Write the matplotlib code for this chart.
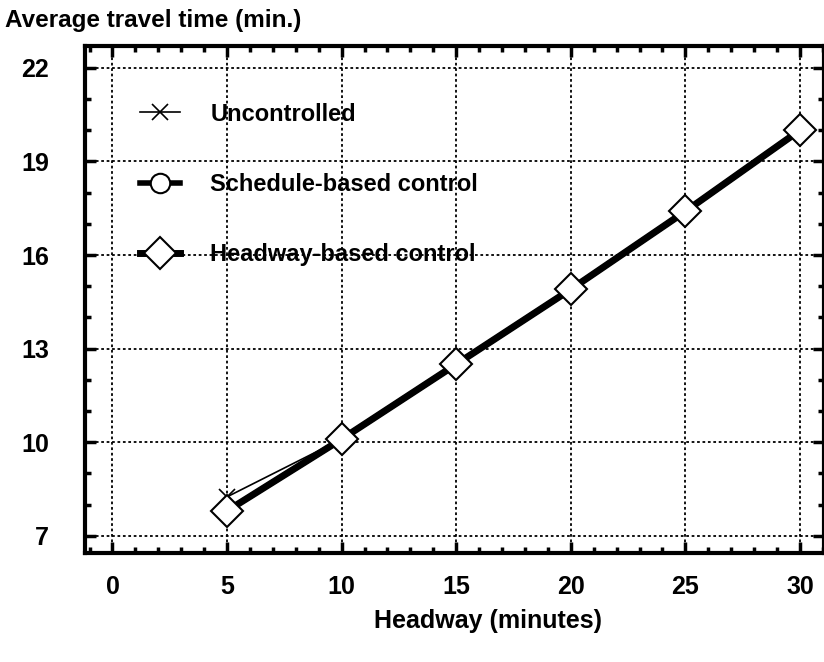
import matplotlib
matplotlib.use("Agg")
import matplotlib.pyplot as plt
from matplotlib.ticker import MultipleLocator

plt.rcParams['font.family'] = ['Liberation Sans', 'DejaVu Sans']
plt.rcParams['font.weight'] = 'bold'

headway = [5, 10, 15, 20, 25, 30]
uncontrolled = [8.25, 10.1, 12.5, 14.9, 17.4, 20.0]
schedule_based = [7.8, 10.1, 12.5, 14.9, 17.4, 20.0]
headway_based = [7.8, 10.1, 12.5, 14.9, 17.4, 20.0]

x_ticks = [0, 5, 10, 15, 20, 25, 30]
y_ticks = [7, 10, 13, 16, 19, 22]

fig = plt.figure(figsize=(8.24, 6.62), dpi=100)
ax = fig.add_axes([85 / 824, 1 - 553 / 662, 1 - 85 / 824, (553 - 46) / 662])

ax.plot(headway, uncontrolled, color='black', lw=1.2, marker='x', ms=12,
        mew=1.2, label='Uncontrolled', zorder=3)
ax.plot(headway, schedule_based, color='black', lw=4, marker='o', ms=14,
        mfc='white', mec='black', mew=1.5, label='Schedule-based control', zorder=4)
ax.plot(headway, headway_based, color='black', lw=5, marker='D', ms=16,
        mfc='white', mec='black', mew=1.5, label='Headway-based control', zorder=5)

ax.set_xlim(-1.2, 31.05)
ax.set_ylim(6.45, 22.7)
ax.set_xticks(x_ticks)
ax.set_yticks(y_ticks)
ax.xaxis.set_minor_locator(MultipleLocator(1))
ax.yaxis.set_minor_locator(MultipleLocator(1))
ax.tick_params(which='both', direction='in', top=True, right=True,
               labelsize=18, width=2.5)
ax.tick_params(axis='x', pad=16)
ax.tick_params(axis='y', pad=26)
ax.tick_params(which='major', length=8)
ax.tick_params(which='minor', length=4)
ax.grid(True, which='major', ls=(0, (1.5, 1.5)), color='black', lw=1.3)
for s in ax.spines.values():
    s.set_linewidth(3)

fig.text(488 / 824, 1 - 621 / 662, 'Headway (minutes)', fontsize=18,
         fontweight='bold', va='center', ha='center')
fig.text(5 / 824, 1 - 20 / 662, 'Average travel time (min.)', fontsize=17.5,
         fontweight='bold', va='center', ha='left')

leg = ax.legend(loc='upper left', bbox_to_anchor=(0.045, 0.93), frameon=False,
                handlelength=1.7, handletextpad=1.3, labelspacing=2.0,
                prop={'weight': 'bold', 'size': 17})

fig.savefig('out.png', dpi=100)
